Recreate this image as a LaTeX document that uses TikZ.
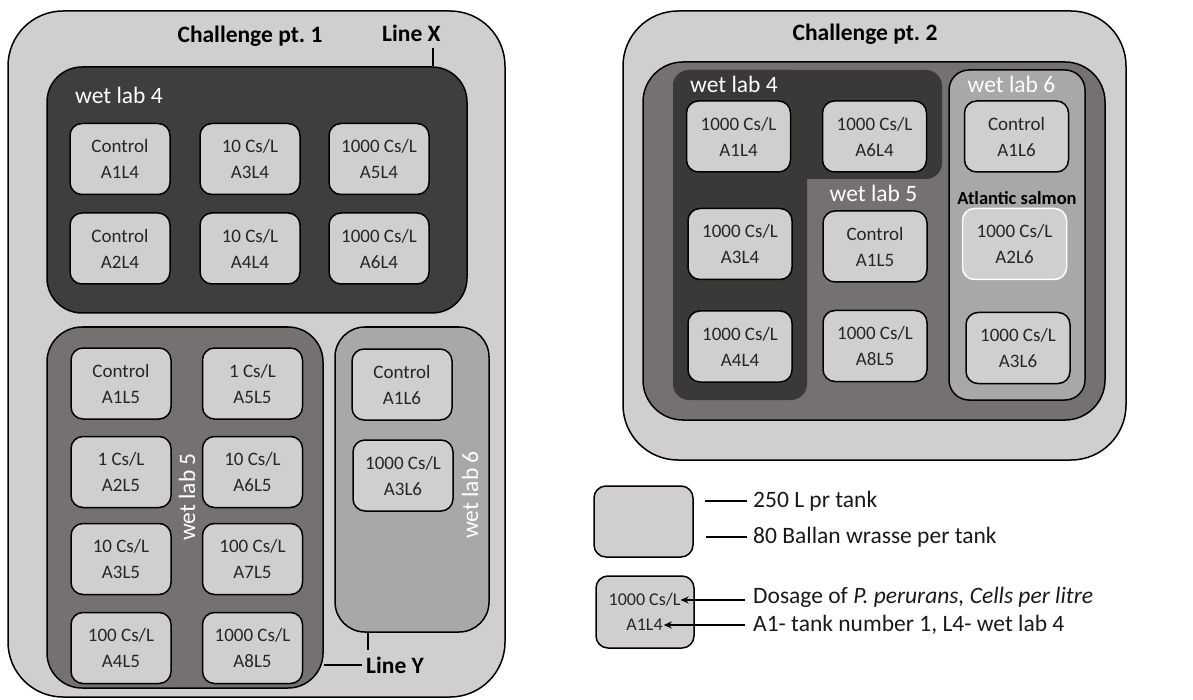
\documentclass[tikz,border=0pt]{standalone}
\usepackage{fontspec}
\setmainfont{Carlito}
\usetikzlibrary{arrows.meta}
\frenchspacing
\definecolor{paleGray}{HTML}{D0CECE}
\definecolor{darkLab}{HTML}{3F3D3D}
\definecolor{darkLabB}{HTML}{3B3838}
\definecolor{midLab}{HTML}{767171}
\definecolor{lightLab}{HTML}{A9A7A7}
\tikzset{
  outerbox/.style={draw=black, line width=1.5pt, fill=paleGray, rounded corners=55pt, minimum width=#1},
  labbox/.style={draw=black, line width=1.5pt, rounded corners=35pt},
  tank/.style={draw=black, line width=1.5pt, fill=paleGray, rounded corners=12pt,
    minimum width=100pt, minimum height=71pt, align=center, inner sep=0pt,
    font=\fontsize{19}{26}\selectfont, text=black!85},
  widetank/.style={tank, minimum width=104pt},
  title/.style={font=\fontsize{23.5}{26}\selectfont\bfseries, inner sep=0pt},
  lablabel/.style={font=\fontsize{23.5}{26}\selectfont, text=white, inner sep=0pt},
  legtext/.style={font=\fontsize{23.5}{26}\selectfont, text=black!90, inner sep=0pt, anchor=west},
  leader/.style={draw=black, line width=2.4pt},
  legline/.style={draw=black, line width=2pt},
  pointer/.style={draw=black, line width=2pt, -{Stealth[length=8pt,width=7pt]}}
}
\begin{document}
\begin{tikzpicture}[x=1pt,y=-1pt]
\useasboundingbox (0,0) rectangle (1193,700);

% ---------- Challenge pt. 1 ----------
\node[outerbox=497pt, minimum height=686pt] (ch1) at (256.5,354) {};
\node[title] (ch1title) at (250,36) {Challenge pt. 1};

% wet lab 4
\node[labbox, fill=darkLab, minimum width=420pt, minimum height=246pt] (wlA) at (257,190) {};
\node[lablabel, anchor=west] (wlAlabel) at (75,95) {wet lab 4};
\node[tank] (p1a1) at (120,159) {Control\\A1L4};
\node[tank] (p1a3) at (250,159) {10 Cs/L\\A3L4};
\node[tank] (p1a5) at (379,159) {1000 Cs/L\\A5L4};
\node[tank] (p1a2) at (120,248.5) {Control\\A2L4};
\node[tank] (p1a4) at (250,248.5) {10 Cs/L\\A4L4};
\node[tank] (p1a6) at (379,248.5) {1000 Cs/L\\A6L4};

% wet lab 5
\node[labbox, fill=midLab, minimum width=276pt, minimum height=361pt] (wlB) at (185,507.5) {};
\node[lablabel, rotate=90] (wlBlabel) at (187,497) {wet lab 5};
\node[tank] (p1b1) at (121,383.5) {Control\\A1L5};
\node[tank] (p1b5) at (252.5,383.5) {1 Cs/L\\A5L5};
\node[tank] (p1b2) at (121,472) {1 Cs/L\\A2L5};
\node[tank] (p1b6) at (252.5,472) {10 Cs/L\\A6L5};
\node[tank] (p1b3) at (121,559) {10 Cs/L\\A3L5};
\node[tank] (p1b7) at (252.5,559) {100 Cs/L\\A7L5};
\node[tank] (p1b4) at (121,648) {100 Cs/L\\A4L5};
\node[tank] (p1b8) at (252.5,648) {1000 Cs/L\\A8L5};

% wet lab 6
\node[labbox, rounded corners=30pt, fill=lightLab, minimum width=154pt, minimum height=305pt] (wlC) at (412,479.5) {};
\node[lablabel, rotate=90] (wlClabel) at (470,495) {wet lab 6};
\node[tank] (p1c1) at (402,384.5) {Control\\A1L6};
\node[tank] (p1c3) at (403,475.5) {1000 Cs/L\\A3L6};

% line markers
\node[title, anchor=west] (lineX) at (382,33) {Line X};
\coordinate (xtop) at (433,48);
\draw[leader] (xtop) -- (xtop |- wlA.north);
\node[title, anchor=west] (lineY) at (366,665) {Line Y};
\coordinate (ybend) at (368,650);
\draw[leader] (ybend |- wlC.south) -- (ybend);
\coordinate (yleft) at (362,665);
\draw[leader] (wlB.east |- yleft) -- (yleft);

% ---------- Challenge pt. 2 ----------
\node[outerbox=503pt, minimum height=449pt] (ch2) at (874.5,235.5) {};
\node[title] (ch2title) at (865,34) {Challenge pt. 2};
\node[labbox, rounded corners=40pt, fill=midLab, minimum width=462pt, minimum height=358pt] (hall) at (874,241) {};

% wet lab 4 area (L-shaped, no outline)
\fill[darkLabB, rounded corners=16pt] (673,70) rectangle (942,179);
\fill[darkLabB, rounded corners=16pt] (673,70) rectangle (807,400);
\node[lablabel, anchor=west] (qAlabel) at (690,84) {wet lab 4};
\node[lablabel] (qBlabel) at (873.5,193) {wet lab 5};

% wet lab 6 area
\node[draw=black, line width=1.5pt, rounded corners=20pt, fill=lightLab, minimum width=136pt, minimum height=330pt] (qC) at (1017,235) {};
\node[lablabel] (qClabel) at (1011.5,84) {wet lab 6};
\node[title, font=\fontsize{18.5}{22}\selectfont\bfseries] (salmon) at (1017,198) {Atlantic salmon};

\node[widetank] (q1) at (738.5,136.5) {1000 Cs/L\\A1L4};
\node[widetank] (q2) at (874.5,136.5) {1000 Cs/L\\A6L4};
\node[widetank] (q3) at (1016.5,136.5) {Control\\A1L6};
\node[widetank] (q4) at (740,244) {1000 Cs/L\\A3L4};
\node[widetank] (q5) at (875,246.5) {Control\\A1L5};
\node[widetank, draw=white] (q6) at (1014.5,244) {1000 Cs/L\\A2L6};
\node[widetank] (q7) at (740,346.5) {1000 Cs/L\\A4L4};
\node[widetank] (q8) at (875,346) {1000 Cs/L\\A8L5};
\node[widetank] (q9) at (1018,348) {1000 Cs/L\\A3L6};

% ---------- Legend ----------
\node[tank, minimum width=99pt] (legA) at (643.5,521.5) {};
\node[legtext] (legA1) at (753,501) {250 L pr tank};
\node[legtext] (legA2) at (753,537) {80 Ballan wrasse per tank};
\draw[legline] (705,501) -- ([xshift=-6pt]legA1.west);
\draw[legline] (706,537) -- ([xshift=-6pt]legA2.west);

\node[tank, minimum width=98pt, minimum height=72pt] (legB) at (645,612) {};
\node[inner sep=0pt, font=\fontsize{18}{25}\selectfont, text=black!85] (legB1) at (644.5,600) {1000 Cs/L};
\node[inner sep=0pt, font=\fontsize{18}{25}\selectfont, text=black!85] (legB2) at (644.5,625) {A1L4};
\node[legtext] (legB1t) at (753,597) {Dosage of \textit{P. perurans, Cells per litre}};
\node[legtext] (legB2t) at (753,625) {A1- tank number 1, L4- wet lab 4};
\draw[pointer] (legB1t.west |- legB1) ++(-8,0) -- (legB1.east);
\draw[pointer] (legB2t.west |- legB2) ++(-8,0) -- ([xshift=1pt]legB2.east);
\end{tikzpicture}
\end{document}
